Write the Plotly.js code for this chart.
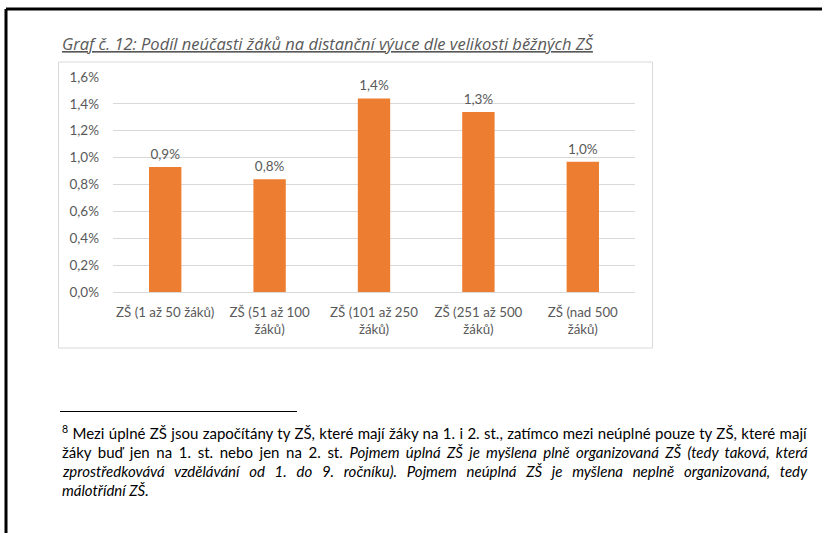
<!DOCTYPE html>
<html>
<head>
<meta charset="utf-8">
<script src="https://cdn.plot.ly/plotly-3.0.1.min.js"></script>
<style>
html,body{margin:0;padding:0;background:#fff;}
#chart{width:822px;height:533px;}
</style>
</head>
<body>
<div id="chart"></div>
<script>
// ---- data ----
var categories = [
  "ZŠ (1 až 50 žáků)",
  "ZŠ (51 až 100<br>žáků)",
  "ZŠ (101 až 250<br>žáků)",
  "ZŠ (251 až 500<br>žáků)",
  "ZŠ (nad 500<br>žáků)"
];
var shareAbsent = [0.0093, 0.0084, 0.0144, 0.0134, 0.0097];
var yTickValues = [0, 0.002, 0.004, 0.006, 0.008, 0.010, 0.012, 0.014, 0.016];

var chartTitle = "Graf č. 12: Podíl neúčasti žáků na distanční výuce dle velikosti běžných ZŠ";
var footnoteLines = [
  "<sup>8</sup> Mezi úplné ZŠ jsou započítány ty ZŠ, které mají žáky na 1. i 2. st., zatímco mezi neúplné pouze ty ZŠ, které mají",
  "žáky buď jen na 1. st. nebo jen na 2. st. <i>Pojmem úplná ZŠ je myšlena plně organizovaná ZŠ (tedy taková, která</i>",
  "<i>zprostředkovává vzdělávání od 1. do 9. ročníku). Pojmem neúplná ZŠ je myšlena neplně organizovaná, tedy</i>",
  "<i>málotřídní ZŠ.</i>"
];
var justifyLine = [true, true, true, false];

// ---- layout geometry (pixels) ----
var W = 822, H = 533;
var M = {l: 113, r: 187, t: 77, b: 241};
var PW = W - M.l - M.r, PH = H - M.t - M.b;
function px(x){ return (x - M.l) / PW; }
function py(y){ return (H - M.b - y) / PH; }

var FONT = "Lato, 'Open Sans', sans-serif";
var GRAY = "#595959";

var bars = {
  type: "bar",
  x: categories,
  y: shareAbsent,
  marker: {color: "#ed7d31", line: {width: 0}},
  hoverinfo: "skip"
};
var labels = {
  type: "scatter",
  mode: "markers+text",
  x: categories,
  y: shareAbsent,
  marker: {size: 6, opacity: 0},
  texttemplate: "%{y:.1%}",
  textposition: "top center",
  cliponaxis: false,
  textfont: {family: FONT, size: 13.5, color: GRAY},
  hoverinfo: "skip"
};

var shapes = [
  // page border (black)
  {type: "line", xref: "paper", yref: "paper", x0: px(6), x1: px(830), y0: py(9), y1: py(9), line: {color: "#000", width: 3}},
  {type: "line", xref: "paper", yref: "paper", x0: px(6), x1: px(6), y0: py(9), y1: py(540), line: {color: "#000", width: 3}},
  // chart frame
  {type: "rect", xref: "paper", yref: "paper", x0: px(58.5), x1: px(652.5), y0: py(62), y1: py(348), line: {color: "#d9d9d9", width: 1}, layer: "below"},
  // footnote separator
  {type: "line", xref: "paper", yref: "paper", x0: px(60), x1: px(297), y0: py(411.5), y1: py(411.5), line: {color: "#000", width: 1}}
];

var annotations = [
  {xref: "paper", yref: "paper", x: px(60), y: py(44), xanchor: "left", yanchor: "middle",
   text: "<i><u>" + chartTitle + "</u></i>", showarrow: false,
   font: {family: "'Open Sans', Lato, sans-serif", size: 16.5, color: GRAY}}
];
var lineY = [432, 451.5, 471, 490];
for (var i = 0; i < footnoteLines.length; i++) {
  annotations.push({xref: "paper", yref: "paper", x: px(60), y: py(lineY[i]), xanchor: "left", yanchor: "middle",
    text: footnoteLines[i], showarrow: false, align: "left",
    font: {family: FONT, size: 15, color: "#000"}});
}

var layout = {
  width: W, height: H,
  margin: M,
  paper_bgcolor: "#fff",
  plot_bgcolor: "#fff",
  separators: ", ",
  showlegend: false,
  bargap: 0.69,
  font: {family: FONT, color: GRAY},
  xaxis: {
    type: "category",
    showgrid: false,
    showline: true, linecolor: "#d9d9d9", linewidth: 1,
    ticks: "", tickfont: {family: FONT, size: 13.3, color: GRAY},
    ticklabelstandoff: 8,
    fixedrange: true
  },
  yaxis: {
    range: [0, 0.016],
    tickvals: yTickValues,
    tickformat: ".1%",
    showgrid: true, gridcolor: "#d9d9d9", gridwidth: 1,
    zeroline: false, showline: false, ticks: "",
    tickfont: {family: FONT, size: 13.5, color: GRAY},
    ticklabelstandoff: 13,
    fixedrange: true
  },
  shapes: shapes,
  annotations: annotations
};

Plotly.newPlot("chart", [bars, labels], layout, {displayModeBar: false, staticPlot: true}).then(function(){
  // justify footnote lines to the right text edge, like the source document
  var targetRight = 808;
  var groups = document.querySelectorAll("#chart .annotation");
  groups.forEach(function(g){
    var idx = +g.getAttribute("data-index");
    if (idx < 1 || !justifyLine[idx - 1]) return;
    var t = g.querySelector("text.annotation-text");
    if (!t) return;
    var box = t.getBoundingClientRect();
    var content = t.textContent || "";
    var spaces = (content.match(/ /g) || []).length;
    var extra = targetRight - box.right;
    if (spaces > 0 && extra > 0) {
      t.style.wordSpacing = (extra / spaces) + "px";
    }
  });
});
</script>
</body>
</html>
